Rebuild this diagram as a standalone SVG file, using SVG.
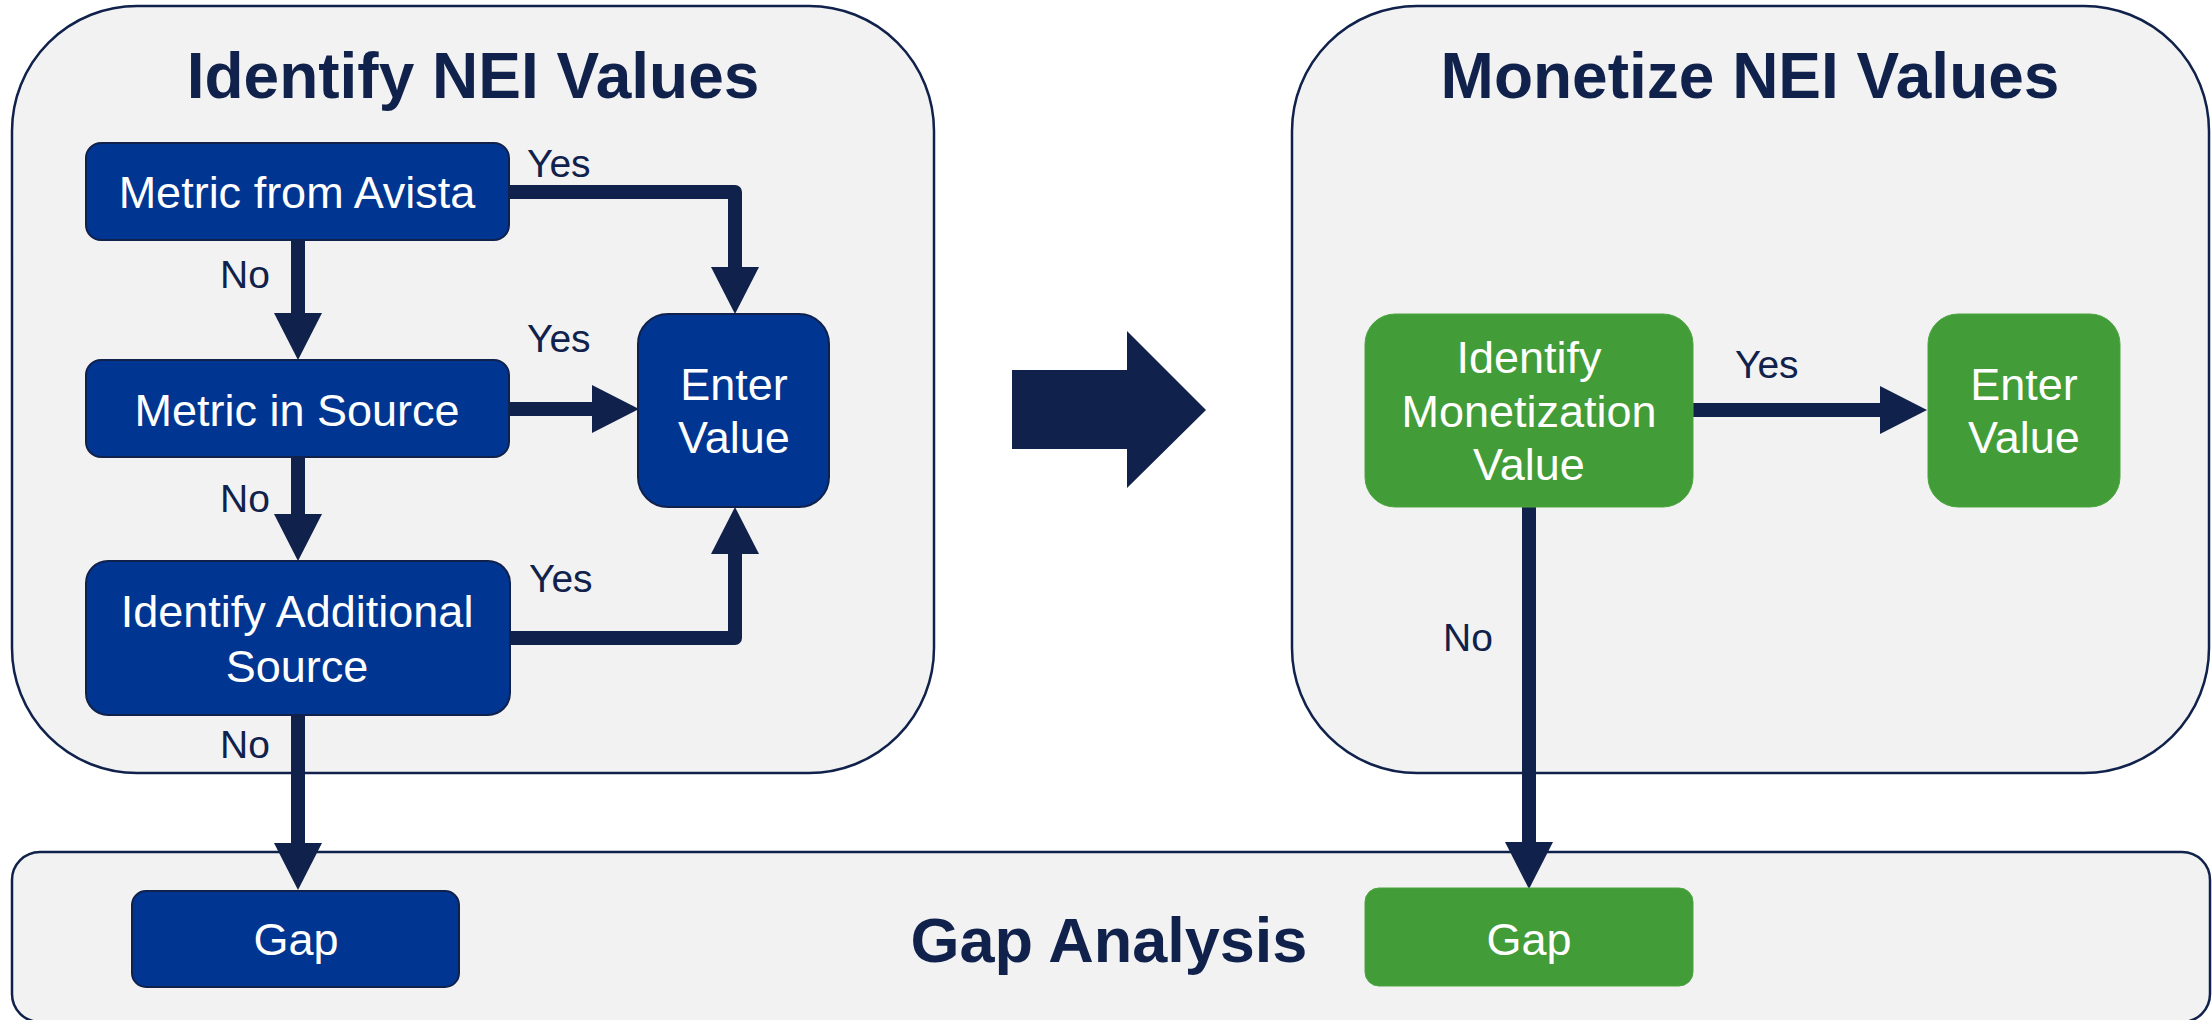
<svg xmlns="http://www.w3.org/2000/svg" width="2212" height="1020" viewBox="0 0 2212 1020">
<defs>
<style>
.panel{fill:#F2F2F2;stroke:#10214B;stroke-width:2.5}
.blue{fill:#003591;stroke:#10214B;stroke-width:2}
.green{fill:#429C37;stroke:#4CA640;stroke-width:1}
.title{font-family:"Liberation Sans",Arial,sans-serif;font-weight:bold;font-size:64px;fill:#10214B;text-anchor:middle}
.nt{font-family:"Liberation Sans",Arial,sans-serif;font-size:45px;fill:#FFFFFF;text-anchor:middle}
.lbl{font-family:"Liberation Sans",Arial,sans-serif;font-size:39px;fill:#10214B}
.conn{fill:none;stroke:#10214B;stroke-width:14;stroke-linejoin:round}
</style>
<marker id="ah" markerUnits="userSpaceOnUse" markerWidth="48" markerHeight="48" refX="0" refY="24" orient="auto" viewBox="0 0 47 48">
<path d="M0,0 L47,24 L0,48 Z" fill="#10214B"/>
</marker>
</defs>
<rect width="2212" height="1020" fill="#FFFFFF"/>
<g id="panel-identify">
<rect class="panel" x="12" y="6" width="922" height="767" rx="125" ry="125"/>
<text class="title" x="473" y="98">Identify NEI Values</text>
</g>
<g id="panel-monetize">
<rect class="panel" x="1292" y="6" width="917" height="767" rx="125" ry="125"/>
<text class="title" x="1750" y="98">Monetize NEI Values</text>
</g>
<g id="panel-gap">
<rect class="panel" x="12" y="852" width="2198" height="170" rx="28" ry="28"/>
<text class="title" x="1109" y="962" style="font-size:63px">Gap Analysis</text>
</g>
<g id="big-arrow">
<polygon points="1012,370 1127,370 1127,331 1206,410 1127,488 1127,449 1012,449" fill="#10214B"/>
</g>
<g id="connectors">
<path class="conn" d="M510,192 H735 V267" marker-end="url(#ah)"/>
<path class="conn" d="M298,240 V313" marker-end="url(#ah)"/>
<path class="conn" d="M509,409 H592" marker-end="url(#ah)"/>
<path class="conn" d="M298,457 V514" marker-end="url(#ah)"/>
<path class="conn" d="M511,638 H735 V554" marker-end="url(#ah)"/>
<path class="conn" d="M298,714 V843" marker-end="url(#ah)"/>
<path class="conn" d="M1692,410 H1880" marker-end="url(#ah)"/>
<path class="conn" d="M1529,506 V842" marker-end="url(#ah)"/>
<text class="lbl" x="527" y="177">Yes</text>
<text class="lbl" x="527" y="352">Yes</text>
<text class="lbl" x="529" y="592">Yes</text>
<text class="lbl" x="220" y="288">No</text>
<text class="lbl" x="220" y="512">No</text>
<text class="lbl" x="220" y="758">No</text>
<text class="lbl" x="1735" y="378">Yes</text>
<text class="lbl" x="1443" y="651">No</text>
</g>
<g id="node-metric-avista">
<rect class="blue" x="86" y="143" width="423" height="97" rx="15"/>
<text class="nt" x="297" y="208">Metric from Avista</text>
</g>
<g id="node-metric-source">
<rect class="blue" x="86" y="360" width="423" height="97" rx="15"/>
<text class="nt" x="297" y="426">Metric in Source</text>
</g>
<g id="node-additional-source">
<rect class="blue" x="86" y="561" width="424" height="154" rx="22"/>
<text class="nt" x="297" y="627">Identify Additional</text>
<text class="nt" x="297" y="682">Source</text>
</g>
<g id="node-enter-value-1">
<rect class="blue" x="638" y="314" width="191" height="193" rx="30"/>
<text class="nt" x="734" y="400">Enter</text>
<text class="nt" x="734" y="453">Value</text>
</g>
<g id="node-gap-1">
<rect class="blue" x="132" y="891" width="327" height="96" rx="14"/>
<text class="nt" x="296" y="955">Gap</text>
</g>
<g id="node-identify-monetization">
<rect class="green" x="1365" y="314" width="328" height="193" rx="30"/>
<text class="nt" x="1529" y="373">Identify</text>
<text class="nt" x="1529" y="427">Monetization</text>
<text class="nt" x="1529" y="480">Value</text>
</g>
<g id="node-enter-value-2">
<rect class="green" x="1928" y="314" width="192" height="193" rx="30"/>
<text class="nt" x="2024" y="400">Enter</text>
<text class="nt" x="2024" y="453">Value</text>
</g>
<g id="node-gap-2">
<rect class="green" x="1365" y="888" width="328" height="98" rx="14"/>
<text class="nt" x="1529" y="955">Gap</text>
</g>
</svg>
